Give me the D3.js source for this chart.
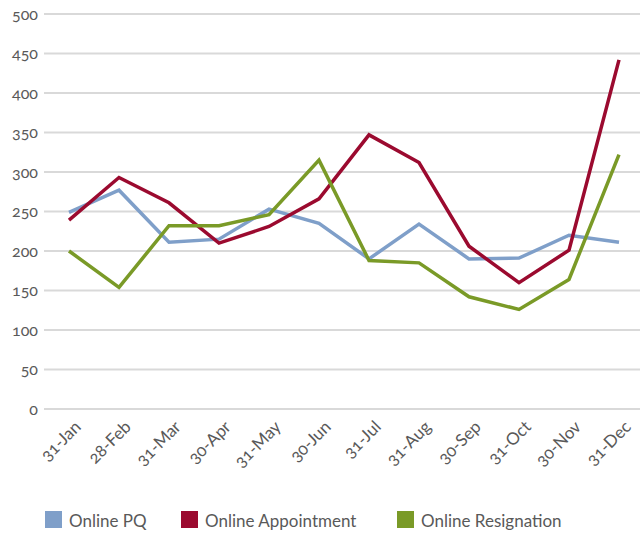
<!DOCTYPE html>
<html>
<head>
<meta charset="utf-8">
<script src="https://cdn.jsdelivr.net/npm/d3@7"></script>
<style>
  body { margin: 0; background: #fff; }
  svg text { font-family: Lato, "Open Sans", sans-serif; fill: #595959; font-feature-settings: "onum"; }
</style>
</head>
<body>
<div id="chart"></div>
<script>
const width = 640;
const height = 533;

const months = ['31-Jan', '28-Feb', '31-Mar', '30-Apr', '31-May', '30-Jun',
  '31-Jul', '31-Aug', '30-Sep', '31-Oct', '30-Nov', '31-Dec'];
const onlinePQ = [249, 277, 211, 215, 253, 235, 190, 234, 190, 191, 220, 211];
const onlineAppointment = [239, 293, 261, 210, 231, 266, 347, 312, 206, 160, 201, 442];
const onlineResignation = [200, 154, 232, 232, 246, 315, 188, 185, 142, 126, 164, 322];
const yTicks = [0, 50, 100, 150, 200, 250, 300, 350, 400, 450, 500];

const series = [
  { name: 'Online PQ', values: onlinePQ, color: '#7f9fc9' },
  { name: 'Online Appointment', values: onlineAppointment, color: '#9b0a2f' },
  { name: 'Online Resignation', values: onlineResignation, color: '#7a9a27' },
];

const margin = { top: 14, right: -4, bottom: 124, left: 44 };

const svg = d3.select('#chart')
  .append('svg')
  .attr('width', width)
  .attr('height', height);

const x = d3.scaleBand()
  .domain(months)
  .range([margin.left, width - margin.right]);

const y = d3.scaleLinear()
  .domain([0, 500])
  .range([height - margin.bottom, margin.top]);

// gridlines
svg.append('g')
  .selectAll('line')
  .data(yTicks)
  .join('line')
  .attr('x1', margin.left)
  .attr('x2', width)
  .attr('y1', d => y(d))
  .attr('y2', d => y(d))
  .attr('stroke', '#d9d9d9')
  .attr('stroke-width', 2);

// y axis labels
svg.append('g')
  .attr('transform', `translate(${margin.left - 6},0)`)
  .call(d3.axisLeft(y).tickValues(yTicks).tickSize(0).tickPadding(0))
  .call(g => g.select('.domain').remove())
  .selectAll('text')
  .style('font-size', '16px');

// x axis labels
svg.append('g')
  .selectAll('text')
  .data(months)
  .join('text')
  .attr('text-anchor', 'end')
  .attr('transform', d => `translate(${x(d) + x.bandwidth() / 2 + 13},${y(0) + 19}) rotate(-45)`)
  .style('font-size', '17px')
  .text(d => d);

const line = d3.line()
  .x((d, i) => x(months[i]) + x.bandwidth() / 2)
  .y(d => y(d));

svg.append('g')
  .selectAll('path')
  .data(series)
  .join('path')
  .attr('d', d => line(d.values))
  .attr('fill', 'none')
  .attr('stroke', d => d.color)
  .attr('stroke-width', 3.5)
  .attr('stroke-linejoin', 'miter');

// legend
const legendX = [45, 181, 397];
const legend = svg.append('g')
  .selectAll('g')
  .data(series)
  .join('g')
  .attr('transform', (d, i) => `translate(${legendX[i]},511)`);

legend.append('rect')
  .attr('width', 17)
  .attr('height', 17)
  .attr('fill', d => d.color);

legend.append('text')
  .attr('x', 24)
  .attr('y', 16)
  .style('font-size', '17px')
  .text(d => d.name);
</script>
</body>
</html>
